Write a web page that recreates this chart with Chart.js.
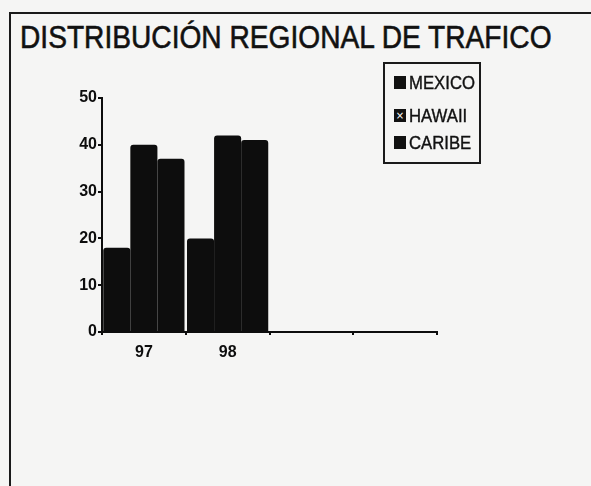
<!DOCTYPE html>
<html>
<head>
<meta charset="utf-8">
<script src="https://cdn.jsdelivr.net/npm/chart.js@4.4.0/dist/chart.umd.min.js"></script>
<style>
  body { margin: 0; background: #f5f5f4; }
  #wrap { position: relative; width: 591px; height: 486px; overflow: hidden; }
  #frame { position: absolute; left: 9px; top: 12px; width: 600px; height: 500px;
           border-left: 2px solid #1a1a1a; border-top: 2px solid #1a1a1a; }
  #title { position: absolute; left: 20px; top: 21px; font-family: "Liberation Sans", Arial, sans-serif;
           font-size: 32px; line-height: 1; color: #111; white-space: nowrap; transform-origin: 0 0;
           -webkit-text-stroke: 0.6px #111; }
  #legend { position: absolute; left: 383px; top: 62px; width: 94px; height: 98px;
            border: 2px solid #1a1a1a; font-family: "Liberation Sans", Arial, sans-serif;
            font-size: 19px; color: #111; }
  .item { position: absolute; left: 9px; height: 20px; line-height: 20px; white-space: nowrap; }
  .sw { display: inline-block; width: 12px; height: 13px; background: #111; vertical-align: middle; margin-right: 3px;
        position: relative; top: -1px; color: #fff; font-size: 10px; line-height: 13px; text-align: center;
        font-family: "DejaVu Sans", sans-serif; }
  .txt { display: inline-block; transform: scaleX(0.88); transform-origin: 0 50%; -webkit-text-stroke: 0.4px #111; }
  canvas { position: absolute; left: 0; top: 0; }
</style>
</head>
<body>
<div id="wrap">
  <div id="frame"></div>
  <div id="title">DISTRIBUCIÓN REGIONAL DE TRAFICO</div>
  <canvas id="chart" width="591" height="486"></canvas>
  <div id="legend"></div>
</div>
<script>
var categories = ["97", "98", "", ""];
var seriesNames = ["MEXICO", "HAWAII", "CARIBE"];
var mexico = [18, 20, null, null];
var hawaii = [40, 42, null, null];
var caribe = [37, 41, null, null];
var yTicks = [0, 10, 20, 30, 40, 50];

// the scanned title is a condensed face, squeeze it to the same width
var title = document.getElementById("title");
title.style.transform = "scaleX(" + (532 / title.offsetWidth) + ")";

// legend made by hand, the reference box sits inside the plot
var legendTops = [9, 42, 69];
var marks = ["", "×", ""];
var leg = document.getElementById("legend");
seriesNames.forEach(function (name, i) {
    var d = document.createElement("div");
    d.className = "item";
    d.style.top = legendTops[i] + "px";
    d.innerHTML = '<span class="sw">' + marks[i] + '</span><span class="txt">' + name + '</span>';
    leg.appendChild(d);
});

var ink = "#0d0d0d";
var ctx = document.getElementById("chart");

var chartGraph = new Chart(ctx, {
    type: 'bar',
    data: {
        labels: categories,
        datasets: [
            { label: seriesNames[0], data: mexico, backgroundColor: ink },
            { label: seriesNames[1], data: hawaii, backgroundColor: ink },
            { label: seriesNames[2], data: caribe, backgroundColor: ink }
        ]
    },
    options: {
        responsive: false,
        animation: false,
        layout: { padding: { left: 72, top: 98, right: 154, bottom: 124 } },
        plugins: {
            legend: { display: false },
            tooltip: { enabled: false }
        },
        datasets: {
            bar: {
                categoryPercentage: 0.97,
                barPercentage: 1.0,
                borderRadius: { topLeft: 3, topRight: 3 },
                borderSkipped: 'bottom'
            }
        },
        scales: {
            x: {
                afterFit: function (axis) { axis.height = 30; },
                grid: { offset: true, drawOnChartArea: false, tickLength: 3, color: ink, lineWidth: 2 },
                border: { color: ink, width: 2 },
                ticks: {
                    color: ink, padding: 8,
                    font: { family: "Liberation Sans", size: 16, weight: 'bold' }
                }
            },
            y: {
                min: 0,
                max: 50,
                afterFit: function (axis) { axis.width = 30; },
                afterBuildTicks: function (axis) {
                    axis.ticks = yTicks.map(function (v) { return { value: v }; });
                },
                grid: { drawOnChartArea: false, tickLength: 4, color: ink, lineWidth: 2 },
                border: { color: ink, width: 2 },
                ticks: {
                    color: ink, padding: 1,
                    font: { family: "Liberation Sans", size: 16, weight: 'bold' }
                }
            }
        }
    }
});
</script>
</body>
</html>
